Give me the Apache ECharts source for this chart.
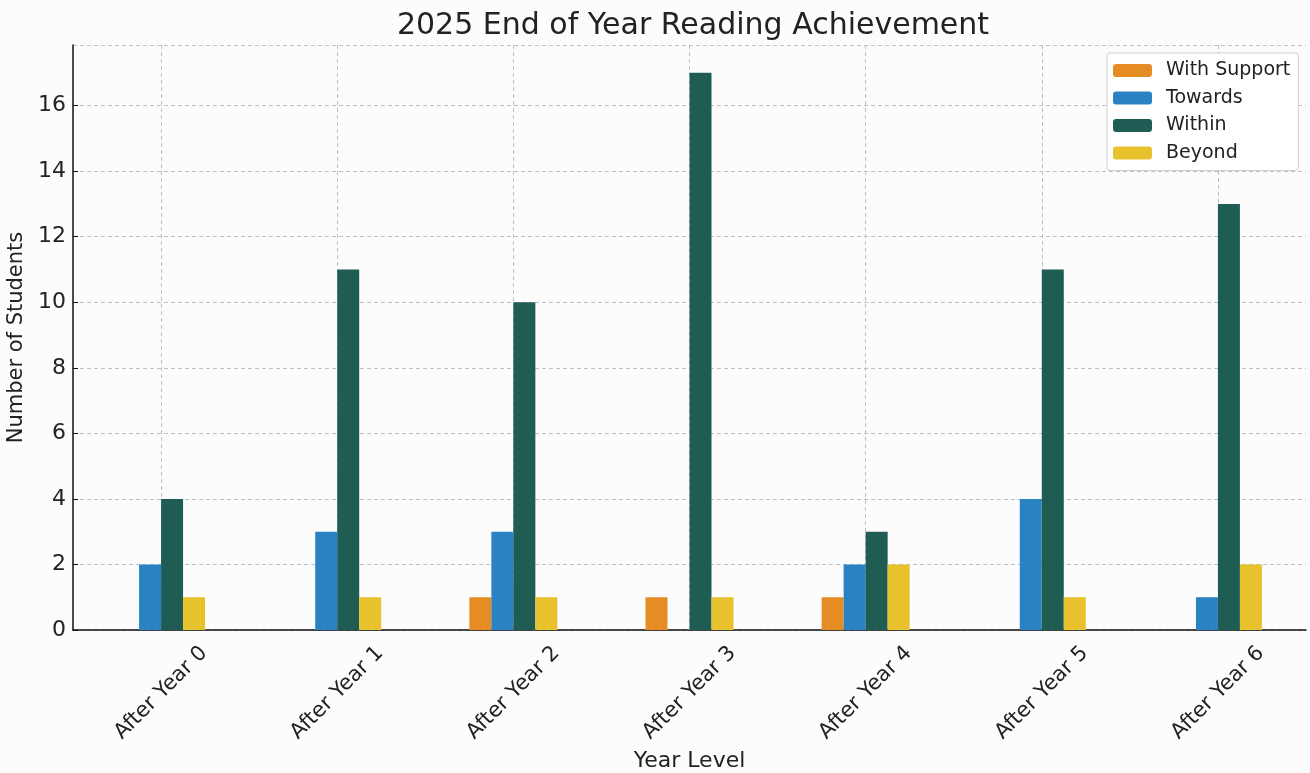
<!DOCTYPE html>
<html>
<head>
<meta charset="utf-8">
<script src="https://cdn.jsdelivr.net/npm/echarts@6/dist/echarts.min.js"></script>
<style>
  html, body { margin: 0; padding: 0; background: #fcfcfc; }
  #chart { width: 1310px; height: 773px; }
</style>
</head>
<body>
<div id="chart"></div>
<script>
const categories = ["After Year 0", "After Year 1", "After Year 2", "After Year 3", "After Year 4", "After Year 5", "After Year 6"];
const withSupport = [0, 0, 1, 1, 1, 0, 0];
const towards = [2, 3, 3, 0, 2, 4, 1];
const within = [4, 11, 10, 17, 3, 11, 13];
const beyond = [1, 1, 1, 1, 2, 1, 2];

const font = "DejaVu Sans";
const gridColor = "#b9c0cf";

const chart = echarts.init(document.getElementById("chart"));

function bar(name, data, color) {
  return {
    name,
    type: "bar",
    data,
    barWidth: 22,
    barGap: "0%",
    itemStyle: { color },
    z: 3
  };
}

chart.setOption({
  backgroundColor: "#fcfcfc",
  textStyle: { fontFamily: font },
  title: {
    text: "2025 End of Year Reading Achievement",
    left: 688,
    textAlign: "center",
    top: 6,
    textStyle: { fontFamily: font, fontSize: 30, fontWeight: "normal", color: "#222" }
  },
  legend: {
    orient: "vertical",
    left: 1107,
    top: 53,
    itemWidth: 39,
    itemHeight: 13,
    itemGap: 8.5,
    padding: [8, 8, 8, 6],
    backgroundColor: "#ffffff",
    borderColor: "#cfcfcf",
    borderWidth: 1,
    borderRadius: 3,
    textStyle: { fontFamily: font, fontSize: 19, color: "#222", padding: [0, 0, 0, 9] },
    data: ["With Support", "Towards", "Within", "Beyond"]
  },
  grid: { left: 73, right: 4, top: 45, bottom: 143, outerBoundsMode: "none", containLabel: false },
  xAxis: {
    type: "category",
    data: categories,
    name: "Year Level",
    nameLocation: "middle",
    nameGap: 117,
    nameTextStyle: { fontFamily: font, fontSize: 22, color: "#222" },
    axisLine: { lineStyle: { color: "#111", width: 1.5 } },
    axisTick: { alignWithLabel: true, length: 5, lineStyle: { color: "#111" } },
    axisLabel: {
      rotate: 45, align: "center", verticalAlign: "middle",
      fontFamily: font, fontSize: 21, color: "#222", margin: 63
    },
    splitLine: { show: false }
  },
  yAxis: {
    type: "value",
    min: 0,
    max: 17.85,
    interval: 2,
    name: "Number of Students",
    nameLocation: "middle",
    nameGap: 45,
    nameTextStyle: { fontFamily: font, fontSize: 21, color: "#222" },
    axisLine: { show: true, lineStyle: { color: "#111", width: 1.5 } },
    axisTick: { show: true, inside: true, length: 5, lineStyle: { color: "#111" } },
    axisLabel: {
      fontFamily: font, fontSize: 22, color: "#222", margin: 7,
      showMaxLabel: false
    },
    splitLine: { lineStyle: { color: gridColor, type: [4, 3], width: 1 } }
  },
  series: [
    bar("With Support", withSupport, "#e58c24"),
    bar("Towards", towards, "#2b82c3"),
    bar("Within", within, "#1f5d54"),
    bar("Beyond", beyond, "#e8c22d"),
    {
      name: "xgrid",
      type: "scatter",
      data: [],
      silent: true,
      markLine: {
        silent: true,
        symbol: "none",
        label: { show: false },
        lineStyle: { color: gridColor, type: [4, 3], width: 1 },
        z: 1,
        data: categories.map(c => ({ xAxis: c }))
      }
    }
  ]
});
</script>
</body>
</html>
